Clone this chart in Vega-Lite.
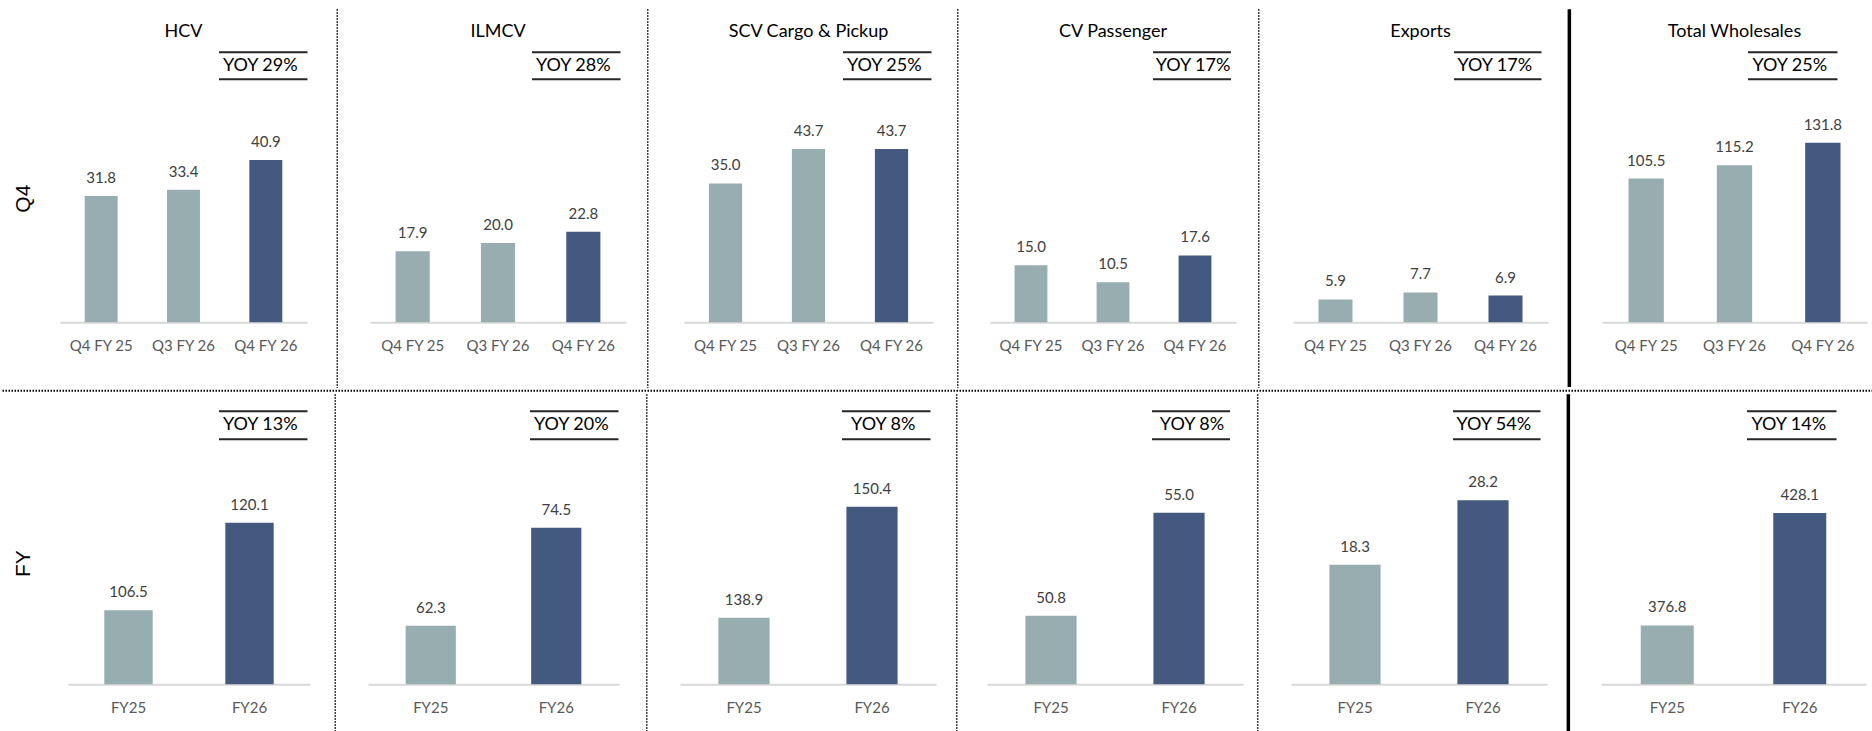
{
"$schema": "https://vega.github.io/schema/vega-lite/v6.json",
"background": "white",
"padding": {"top": 7.25, "left": 0, "right": 0, "bottom": 0},
"spacing": 0,
"datasets": {
"rows": [{"row": "Q4"}, {"row": "FY"}],
"panels": [
{"row": "Q4", "panel": "HCV", "yoy": "YOY 29%"},
{"row": "Q4", "panel": "ILMCV", "yoy": "YOY 28%"},
{"row": "Q4", "panel": "SCV Cargo & Pickup", "yoy": "YOY 25%"},
{"row": "Q4", "panel": "CV Passenger", "yoy": "YOY 17%"},
{"row": "Q4", "panel": "Exports", "yoy": "YOY 17%"},
{"row": "Q4", "panel": "Total Wholesales", "yoy": "YOY 25%"},
{"row": "FY", "panel": "HCV", "yoy": "YOY 13%"},
{"row": "FY", "panel": "ILMCV", "yoy": "YOY 20%"},
{"row": "FY", "panel": "SCV Cargo & Pickup", "yoy": "YOY 8%"},
{"row": "FY", "panel": "CV Passenger", "yoy": "YOY 8%"},
{"row": "FY", "panel": "Exports", "yoy": "YOY 54%"},
{"row": "FY", "panel": "Total Wholesales", "yoy": "YOY 14%"}
],
"bars": [
{"row": "Q4", "panel": "HCV", "period": "Q4 FY 25", "series": "Earlier", "value": 31.8},
{"row": "Q4", "panel": "HCV", "period": "Q3 FY 26", "series": "Earlier", "value": 33.4},
{"row": "Q4", "panel": "HCV", "period": "Q4 FY 26", "series": "Latest", "value": 40.9},
{"row": "Q4", "panel": "ILMCV", "period": "Q4 FY 25", "series": "Earlier", "value": 17.9},
{"row": "Q4", "panel": "ILMCV", "period": "Q3 FY 26", "series": "Earlier", "value": 20.0},
{"row": "Q4", "panel": "ILMCV", "period": "Q4 FY 26", "series": "Latest", "value": 22.8},
{"row": "Q4", "panel": "SCV Cargo & Pickup", "period": "Q4 FY 25", "series": "Earlier", "value": 35.0},
{"row": "Q4", "panel": "SCV Cargo & Pickup", "period": "Q3 FY 26", "series": "Earlier", "value": 43.7},
{"row": "Q4", "panel": "SCV Cargo & Pickup", "period": "Q4 FY 26", "series": "Latest", "value": 43.7},
{"row": "Q4", "panel": "CV Passenger", "period": "Q4 FY 25", "series": "Earlier", "value": 15.0},
{"row": "Q4", "panel": "CV Passenger", "period": "Q3 FY 26", "series": "Earlier", "value": 10.5},
{"row": "Q4", "panel": "CV Passenger", "period": "Q4 FY 26", "series": "Latest", "value": 17.6},
{"row": "Q4", "panel": "Exports", "period": "Q4 FY 25", "series": "Earlier", "value": 5.9},
{"row": "Q4", "panel": "Exports", "period": "Q3 FY 26", "series": "Earlier", "value": 7.7},
{"row": "Q4", "panel": "Exports", "period": "Q4 FY 26", "series": "Latest", "value": 6.9},
{"row": "Q4", "panel": "Total Wholesales", "period": "Q4 FY 25", "series": "Earlier", "value": 105.5},
{"row": "Q4", "panel": "Total Wholesales", "period": "Q3 FY 26", "series": "Earlier", "value": 115.2},
{"row": "Q4", "panel": "Total Wholesales", "period": "Q4 FY 26", "series": "Latest", "value": 131.8},
{"row": "FY", "panel": "HCV", "period": "FY25", "series": "Earlier", "value": 106.5},
{"row": "FY", "panel": "HCV", "period": "FY26", "series": "Latest", "value": 120.1},
{"row": "FY", "panel": "ILMCV", "period": "FY25", "series": "Earlier", "value": 62.3},
{"row": "FY", "panel": "ILMCV", "period": "FY26", "series": "Latest", "value": 74.5},
{"row": "FY", "panel": "SCV Cargo & Pickup", "period": "FY25", "series": "Earlier", "value": 138.9},
{"row": "FY", "panel": "SCV Cargo & Pickup", "period": "FY26", "series": "Latest", "value": 150.4},
{"row": "FY", "panel": "CV Passenger", "period": "FY25", "series": "Earlier", "value": 50.8},
{"row": "FY", "panel": "CV Passenger", "period": "FY26", "series": "Latest", "value": 55.0},
{"row": "FY", "panel": "Exports", "period": "FY25", "series": "Earlier", "value": 18.3},
{"row": "FY", "panel": "Exports", "period": "FY26", "series": "Latest", "value": 28.2},
{"row": "FY", "panel": "Total Wholesales", "period": "FY25", "series": "Earlier", "value": 376.8},
{"row": "FY", "panel": "Total Wholesales", "period": "FY26", "series": "Latest", "value": 428.1}
]
},
"vconcat": [
{"hconcat": [
{"width": 59, "height": 378.75, "data": {"name": "rows"}, "transform": [{"filter": "datum.row === 'Q4'"}], "mark": {"type": "text", "angle": 270, "font": "Liberation Sans", "fontSize": 21, "color": "#000", "dy": -7}, "encoding": {"text": {"field": "row", "type": "nominal"}}},
{"vconcat": [
{"width": 247, "height": 42, "data": {"name": "panels"}, "transform": [{"filter": "datum.row === 'Q4' && datum.panel === 'HCV'"}], "mark": {"type": "text", "fontSize": 18, "color": "#000", "dy": 2}, "encoding": {"text": {"field": "panel", "type": "nominal"}}},
{"hconcat": [
{"width": 157.5, "height": 27, "data": {"values": []}, "mark": "text", "encoding": {}},
{"width": 88.5, "height": 27, "view": {"stroke": "#262626", "strokeWidth": 2, "strokeDash": [88.5, 27]}, "data": {"name": "panels"}, "transform": [{"filter": "datum.row === 'Q4' && datum.panel === 'HCV'"}], "mark": {"type": "text", "fontSize": 18, "color": "#000", "dx": -3}, "encoding": {"text": {"field": "yoy", "type": "nominal"}}}
], "spacing": 0},
{"width": 247, "height": 242, "data": {"name": "bars"}, "transform": [{"filter": "datum.row === 'Q4' && datum.panel === 'HCV'"}],
"encoding": {"x": {"field": "period", "type": "nominal", "sort": null, "scale": {"paddingInner": 0.6, "paddingOuter": 0.3}}, "y": {"field": "value", "type": "quantitative", "axis": null, "scale": {"domain": [0, 61.0], "nice": false}}},
"layer": [{"mark": {"type": "bar"}, "encoding": {"color": {"field": "series", "type": "nominal", "legend": null}}}, {"mark": {"type": "text", "dy": -18, "fontSize": 15, "color": "#404040"}, "encoding": {"text": {"field": "value", "type": "quantitative", "format": ".1f"}}}]}
], "spacing": 0},
{"width": 60.5, "height": 378.75, "data": {"name": "rows"}, "transform": [{"filter": "datum.row === 'Q4'"}], "mark": {"type": "rule", "color": "#000", "strokeWidth": 1.5, "strokeDash": [1.5, 1.5]}, "encoding": {"x": {"datum": 0.467, "type": "quantitative", "scale": {"domain": [0, 1]}, "axis": null}}},
{"vconcat": [
{"width": 256, "height": 42, "data": {"name": "panels"}, "transform": [{"filter": "datum.row === 'Q4' && datum.panel === 'ILMCV'"}], "mark": {"type": "text", "fontSize": 18, "color": "#000", "dy": 2}, "encoding": {"text": {"field": "panel", "type": "nominal"}}},
{"hconcat": [
{"width": 161, "height": 27, "data": {"values": []}, "mark": "text", "encoding": {}},
{"width": 88.5, "height": 27, "view": {"stroke": "#262626", "strokeWidth": 2, "strokeDash": [88.5, 27]}, "data": {"name": "panels"}, "transform": [{"filter": "datum.row === 'Q4' && datum.panel === 'ILMCV'"}], "mark": {"type": "text", "fontSize": 18, "color": "#000", "dx": -3}, "encoding": {"text": {"field": "yoy", "type": "nominal"}}}
], "spacing": 0},
{"width": 256, "height": 242, "data": {"name": "bars"}, "transform": [{"filter": "datum.row === 'Q4' && datum.panel === 'ILMCV'"}],
"encoding": {"x": {"field": "period", "type": "nominal", "sort": null, "scale": {"paddingInner": 0.6, "paddingOuter": 0.3}}, "y": {"field": "value", "type": "quantitative", "axis": null, "scale": {"domain": [0, 61.0], "nice": false}}},
"layer": [{"mark": {"type": "bar"}, "encoding": {"color": {"field": "series", "type": "nominal", "legend": null}}}, {"mark": {"type": "text", "dy": -18, "fontSize": 15, "color": "#404040"}, "encoding": {"text": {"field": "value", "type": "quantitative", "format": ".1f"}}}]}
], "spacing": 0},
{"width": 57.5, "height": 378.75, "data": {"name": "rows"}, "transform": [{"filter": "datum.row === 'Q4'"}], "mark": {"type": "rule", "color": "#000", "strokeWidth": 1.5, "strokeDash": [1.5, 1.5]}, "encoding": {"x": {"datum": 0.378, "type": "quantitative", "scale": {"domain": [0, 1]}, "axis": null}}},
{"vconcat": [
{"width": 249, "height": 42, "data": {"name": "panels"}, "transform": [{"filter": "datum.row === 'Q4' && datum.panel === 'SCV Cargo & Pickup'"}], "mark": {"type": "text", "fontSize": 18, "color": "#000", "dy": 2}, "encoding": {"text": {"field": "panel", "type": "nominal"}}},
{"hconcat": [
{"width": 157.5, "height": 27, "data": {"values": []}, "mark": "text", "encoding": {}},
{"width": 88.5, "height": 27, "view": {"stroke": "#262626", "strokeWidth": 2, "strokeDash": [88.5, 27]}, "data": {"name": "panels"}, "transform": [{"filter": "datum.row === 'Q4' && datum.panel === 'SCV Cargo & Pickup'"}], "mark": {"type": "text", "fontSize": 18, "color": "#000", "dx": -3}, "encoding": {"text": {"field": "yoy", "type": "nominal"}}}
], "spacing": 0},
{"width": 249, "height": 242, "data": {"name": "bars"}, "transform": [{"filter": "datum.row === 'Q4' && datum.panel === 'SCV Cargo & Pickup'"}],
"encoding": {"x": {"field": "period", "type": "nominal", "sort": null, "scale": {"paddingInner": 0.6, "paddingOuter": 0.3}}, "y": {"field": "value", "type": "quantitative", "axis": null, "scale": {"domain": [0, 61.0], "nice": false}}},
"layer": [{"mark": {"type": "bar"}, "encoding": {"color": {"field": "series", "type": "nominal", "legend": null}}}, {"mark": {"type": "text", "dy": -18, "fontSize": 15, "color": "#404040"}, "encoding": {"text": {"field": "value", "type": "quantitative", "format": ".1f"}}}]}
], "spacing": 0},
{"width": 56.5, "height": 378.75, "data": {"name": "rows"}, "transform": [{"filter": "datum.row === 'Q4'"}], "mark": {"type": "rule", "color": "#000", "strokeWidth": 1.5, "strokeDash": [1.5, 1.5]}, "encoding": {"x": {"datum": 0.438, "type": "quantitative", "scale": {"domain": [0, 1]}, "axis": null}}},
{"vconcat": [
{"width": 246, "height": 42, "data": {"name": "panels"}, "transform": [{"filter": "datum.row === 'Q4' && datum.panel === 'CV Passenger'"}], "mark": {"type": "text", "fontSize": 18, "color": "#000", "dy": 2}, "encoding": {"text": {"field": "panel", "type": "nominal"}}},
{"hconcat": [
{"width": 162, "height": 27, "data": {"values": []}, "mark": "text", "encoding": {}},
{"width": 78, "height": 27, "view": {"stroke": "#262626", "strokeWidth": 2, "strokeDash": [78, 27]}, "data": {"name": "panels"}, "transform": [{"filter": "datum.row === 'Q4' && datum.panel === 'CV Passenger'"}], "mark": {"type": "text", "fontSize": 18, "color": "#000", "dx": 1}, "encoding": {"text": {"field": "yoy", "type": "nominal"}}}
], "spacing": 0},
{"width": 246, "height": 242, "data": {"name": "bars"}, "transform": [{"filter": "datum.row === 'Q4' && datum.panel === 'CV Passenger'"}],
"encoding": {"x": {"field": "period", "type": "nominal", "sort": null, "scale": {"paddingInner": 0.6, "paddingOuter": 0.3}}, "y": {"field": "value", "type": "quantitative", "axis": null, "scale": {"domain": [0, 63.7], "nice": false}}},
"layer": [{"mark": {"type": "bar"}, "encoding": {"color": {"field": "series", "type": "nominal", "legend": null}}}, {"mark": {"type": "text", "dy": -18, "fontSize": 15, "color": "#404040"}, "encoding": {"text": {"field": "value", "type": "quantitative", "format": ".1f"}}}]}
], "spacing": 0},
{"width": 56.5, "height": 378.75, "data": {"name": "rows"}, "transform": [{"filter": "datum.row === 'Q4'"}], "mark": {"type": "rule", "color": "#000", "strokeWidth": 1.5, "strokeDash": [1.5, 1.5]}, "encoding": {"x": {"datum": 0.403, "type": "quantitative", "scale": {"domain": [0, 1]}, "axis": null}}},
{"vconcat": [
{"width": 255, "height": 42, "data": {"name": "panels"}, "transform": [{"filter": "datum.row === 'Q4' && datum.panel === 'Exports'"}], "mark": {"type": "text", "fontSize": 18, "color": "#000", "dy": 2}, "encoding": {"text": {"field": "panel", "type": "nominal"}}},
{"hconcat": [
{"width": 160, "height": 27, "data": {"values": []}, "mark": "text", "encoding": {}},
{"width": 87.5, "height": 27, "view": {"stroke": "#262626", "strokeWidth": 2, "strokeDash": [87.5, 27]}, "data": {"name": "panels"}, "transform": [{"filter": "datum.row === 'Q4' && datum.panel === 'Exports'"}], "mark": {"type": "text", "fontSize": 18, "color": "#000", "dx": -3}, "encoding": {"text": {"field": "yoy", "type": "nominal"}}}
], "spacing": 0},
{"width": 255, "height": 242, "data": {"name": "bars"}, "transform": [{"filter": "datum.row === 'Q4' && datum.panel === 'Exports'"}],
"encoding": {"x": {"field": "period", "type": "nominal", "sort": null, "scale": {"paddingInner": 0.6, "paddingOuter": 0.3}}, "y": {"field": "value", "type": "quantitative", "axis": null, "scale": {"domain": [0, 62.5], "nice": false}}},
"layer": [{"mark": {"type": "bar"}, "encoding": {"color": {"field": "series", "type": "nominal", "legend": null}}}, {"mark": {"type": "text", "dy": -18, "fontSize": 15, "color": "#404040"}, "encoding": {"text": {"field": "value", "type": "quantitative", "format": ".1f"}}}]}
], "spacing": 0},
{"width": 53.5, "height": 377.75, "data": {"name": "rows"}, "transform": [{"filter": "datum.row === 'Q4'"}], "mark": {"type": "rule", "color": "#000", "strokeWidth": 3.5}, "encoding": {"x": {"datum": 0.399, "type": "quantitative", "scale": {"domain": [0, 1]}, "axis": null}}},
{"vconcat": [
{"width": 265, "height": 42, "data": {"name": "panels"}, "transform": [{"filter": "datum.row === 'Q4' && datum.panel === 'Total Wholesales'"}], "mark": {"type": "text", "fontSize": 18, "color": "#000", "dy": 2}, "encoding": {"text": {"field": "panel", "type": "nominal"}}},
{"hconcat": [
{"width": 144.5, "height": 27, "data": {"values": []}, "mark": "text", "encoding": {}},
{"width": 89.5, "height": 27, "view": {"stroke": "#262626", "strokeWidth": 2, "strokeDash": [89.5, 27]}, "data": {"name": "panels"}, "transform": [{"filter": "datum.row === 'Q4' && datum.panel === 'Total Wholesales'"}], "mark": {"type": "text", "fontSize": 18, "color": "#000", "dx": -3}, "encoding": {"text": {"field": "yoy", "type": "nominal"}}}
], "spacing": 0},
{"width": 265, "height": 242, "data": {"name": "bars"}, "transform": [{"filter": "datum.row === 'Q4' && datum.panel === 'Total Wholesales'"}],
"encoding": {"x": {"field": "period", "type": "nominal", "sort": null, "scale": {"paddingInner": 0.6, "paddingOuter": 0.3}}, "y": {"field": "value", "type": "quantitative", "axis": null, "scale": {"domain": [0, 177.7], "nice": false}}},
"layer": [{"mark": {"type": "bar"}, "encoding": {"color": {"field": "series", "type": "nominal", "legend": null}}}, {"mark": {"type": "text", "dy": -18, "fontSize": 15, "color": "#404040"}, "encoding": {"text": {"field": "value", "type": "quantitative", "format": ".1f"}}}]}
], "spacing": 0}
], "spacing": 0},
{"width": 1872, "height": 1, "data": {"name": "rows"}, "transform": [{"filter": "datum.row === 'Q4'"}], "mark": {"type": "rule", "color": "#000", "strokeWidth": 2, "strokeDash": [1.5, 1.5]}, "encoding": {"y": {"datum": 0.5, "type": "quantitative", "scale": {"domain": [0, 1]}, "axis": null}}},
{"hconcat": [
{"width": 67, "height": 338.75, "data": {"name": "rows"}, "transform": [{"filter": "datum.row === 'FY'"}], "mark": {"type": "text", "angle": 270, "font": "Liberation Sans", "fontSize": 21, "color": "#000", "dy": -11}, "encoding": {"text": {"field": "row", "type": "nominal"}}},
{"vconcat": [
{"width": 242, "height": 15.75, "data": {"values": []}, "mark": "text", "encoding": {}},
{"hconcat": [
{"width": 149.5, "height": 28, "data": {"values": []}, "mark": "text", "encoding": {}},
{"width": 88.5, "height": 28, "view": {"stroke": "#262626", "strokeWidth": 2, "strokeDash": [88.5, 28]}, "data": {"name": "panels"}, "transform": [{"filter": "datum.row === 'FY' && datum.panel === 'HCV'"}], "mark": {"type": "text", "fontSize": 18, "color": "#000", "dx": -3}, "encoding": {"text": {"field": "yoy", "type": "nominal"}}}
], "spacing": 0},
{"width": 242, "height": 244, "data": {"name": "bars"}, "transform": [{"filter": "datum.row === 'FY' && datum.panel === 'HCV'"}],
"encoding": {"x": {"field": "period", "type": "nominal", "sort": null, "scale": {"paddingInner": 0.6, "paddingOuter": 0.3}}, "y": {"field": "value", "type": "quantitative", "axis": null, "scale": {"domain": [95, 132.9], "nice": false, "zero": false, "clamp": true}}},
"layer": [{"mark": {"type": "bar"}, "encoding": {"color": {"field": "series", "type": "nominal", "legend": null}}}, {"mark": {"type": "text", "dy": -18, "fontSize": 15, "color": "#404040"}, "encoding": {"text": {"field": "value", "type": "quantitative", "format": ".1f"}}}]}
], "spacing": 0},
{"width": 57.5, "height": 338.75, "data": {"name": "rows"}, "transform": [{"filter": "datum.row === 'FY'"}], "mark": {"type": "rule", "color": "#000", "strokeWidth": 1.5, "strokeDash": [1.5, 1.5]}, "encoding": {"x": {"datum": 0.439, "type": "quantitative", "scale": {"domain": [0, 1]}, "axis": null}}},
{"vconcat": [
{"width": 251, "height": 15.75, "data": {"values": []}, "mark": "text", "encoding": {}},
{"hconcat": [
{"width": 161, "height": 28, "data": {"values": []}, "mark": "text", "encoding": {}},
{"width": 88.5, "height": 28, "view": {"stroke": "#262626", "strokeWidth": 2, "strokeDash": [88.5, 28]}, "data": {"name": "panels"}, "transform": [{"filter": "datum.row === 'FY' && datum.panel === 'ILMCV'"}], "mark": {"type": "text", "fontSize": 18, "color": "#000", "dx": -3}, "encoding": {"text": {"field": "yoy", "type": "nominal"}}}
], "spacing": 0},
{"width": 251, "height": 244, "data": {"name": "bars"}, "transform": [{"filter": "datum.row === 'FY' && datum.panel === 'ILMCV'"}],
"encoding": {"x": {"field": "period", "type": "nominal", "sort": null, "scale": {"paddingInner": 0.6, "paddingOuter": 0.3}}, "y": {"field": "value", "type": "quantitative", "axis": null, "scale": {"domain": [55, 85.4], "nice": false, "zero": false, "clamp": true}}},
"layer": [{"mark": {"type": "bar"}, "encoding": {"color": {"field": "series", "type": "nominal", "legend": null}}}, {"mark": {"type": "text", "dy": -18, "fontSize": 15, "color": "#404040"}, "encoding": {"text": {"field": "value", "type": "quantitative", "format": ".1f"}}}]}
], "spacing": 0},
{"width": 59.5, "height": 338.75, "data": {"name": "rows"}, "transform": [{"filter": "datum.row === 'FY'"}], "mark": {"type": "rule", "color": "#000", "strokeWidth": 1.5, "strokeDash": [1.5, 1.5]}, "encoding": {"x": {"datum": 0.45, "type": "quantitative", "scale": {"domain": [0, 1]}, "axis": null}}},
{"vconcat": [
{"width": 256, "height": 15.75, "data": {"values": []}, "mark": "text", "encoding": {}},
{"hconcat": [
{"width": 160.5, "height": 28, "data": {"values": []}, "mark": "text", "encoding": {}},
{"width": 88.5, "height": 28, "view": {"stroke": "#262626", "strokeWidth": 2, "strokeDash": [88.5, 28]}, "data": {"name": "panels"}, "transform": [{"filter": "datum.row === 'FY' && datum.panel === 'SCV Cargo & Pickup'"}], "mark": {"type": "text", "fontSize": 18, "color": "#000", "dx": -3}, "encoding": {"text": {"field": "yoy", "type": "nominal"}}}
], "spacing": 0},
{"width": 256, "height": 244, "data": {"name": "bars"}, "transform": [{"filter": "datum.row === 'FY' && datum.panel === 'SCV Cargo & Pickup'"}],
"encoding": {"x": {"field": "period", "type": "nominal", "sort": null, "scale": {"paddingInner": 0.6, "paddingOuter": 0.3}}, "y": {"field": "value", "type": "quantitative", "axis": null, "scale": {"domain": [132, 157.3], "nice": false, "zero": false, "clamp": true}}},
"layer": [{"mark": {"type": "bar"}, "encoding": {"color": {"field": "series", "type": "nominal", "legend": null}}}, {"mark": {"type": "text", "dy": -18, "fontSize": 15, "color": "#404040"}, "encoding": {"text": {"field": "value", "type": "quantitative", "format": ".1f"}}}]}
], "spacing": 0},
{"width": 50.5, "height": 338.75, "data": {"name": "rows"}, "transform": [{"filter": "datum.row === 'FY'"}], "mark": {"type": "rule", "color": "#000", "strokeWidth": 1.5, "strokeDash": [1.5, 1.5]}, "encoding": {"x": {"datum": 0.411, "type": "quantitative", "scale": {"domain": [0, 1]}, "axis": null}}},
{"vconcat": [
{"width": 256, "height": 15.75, "data": {"values": []}, "mark": "text", "encoding": {}},
{"hconcat": [
{"width": 164, "height": 28, "data": {"values": []}, "mark": "text", "encoding": {}},
{"width": 78, "height": 28, "view": {"stroke": "#262626", "strokeWidth": 2, "strokeDash": [78, 28]}, "data": {"name": "panels"}, "transform": [{"filter": "datum.row === 'FY' && datum.panel === 'CV Passenger'"}], "mark": {"type": "text", "fontSize": 18, "color": "#000", "dx": 1}, "encoding": {"text": {"field": "yoy", "type": "nominal"}}}
], "spacing": 0},
{"width": 256, "height": 244, "data": {"name": "bars"}, "transform": [{"filter": "datum.row === 'FY' && datum.panel === 'CV Passenger'"}],
"encoding": {"x": {"field": "period", "type": "nominal", "sort": null, "scale": {"paddingInner": 0.6, "paddingOuter": 0.3}}, "y": {"field": "value", "type": "quantitative", "axis": null, "scale": {"domain": [48, 57.96], "nice": false, "zero": false, "clamp": true}}},
"layer": [{"mark": {"type": "bar"}, "encoding": {"color": {"field": "series", "type": "nominal", "legend": null}}}, {"mark": {"type": "text", "dy": -18, "fontSize": 15, "color": "#404040"}, "encoding": {"text": {"field": "value", "type": "quantitative", "format": ".1f"}}}]}
], "spacing": 0},
{"width": 47.5, "height": 338.75, "data": {"name": "rows"}, "transform": [{"filter": "datum.row === 'FY'"}], "mark": {"type": "rule", "color": "#000", "strokeWidth": 1.5, "strokeDash": [1.5, 1.5]}, "encoding": {"x": {"datum": 0.31, "type": "quantitative", "scale": {"domain": [0, 1]}, "axis": null}}},
{"vconcat": [
{"width": 256, "height": 15.75, "data": {"values": []}, "mark": "text", "encoding": {}},
{"hconcat": [
{"width": 161, "height": 28, "data": {"values": []}, "mark": "text", "encoding": {}},
{"width": 87.5, "height": 28, "view": {"stroke": "#262626", "strokeWidth": 2, "strokeDash": [87.5, 28]}, "data": {"name": "panels"}, "transform": [{"filter": "datum.row === 'FY' && datum.panel === 'Exports'"}], "mark": {"type": "text", "fontSize": 18, "color": "#000", "dx": -3}, "encoding": {"text": {"field": "yoy", "type": "nominal"}}}
], "spacing": 0},
{"width": 256, "height": 244, "data": {"name": "bars"}, "transform": [{"filter": "datum.row === 'FY' && datum.panel === 'Exports'"}],
"encoding": {"x": {"field": "period", "type": "nominal", "sort": null, "scale": {"paddingInner": 0.6, "paddingOuter": 0.3}}, "y": {"field": "value", "type": "quantitative", "axis": null, "scale": {"domain": [0, 37.4], "nice": false}}},
"layer": [{"mark": {"type": "bar"}, "encoding": {"color": {"field": "series", "type": "nominal", "legend": null}}}, {"mark": {"type": "text", "dy": -18, "fontSize": 15, "color": "#404040"}, "encoding": {"text": {"field": "value", "type": "quantitative", "format": ".1f"}}}]}
], "spacing": 0},
{"width": 53.5, "height": 337.75, "data": {"name": "rows"}, "transform": [{"filter": "datum.row === 'FY'"}], "mark": {"type": "rule", "color": "#000", "strokeWidth": 3.5}, "encoding": {"x": {"datum": 0.399, "type": "quantitative", "scale": {"domain": [0, 1]}, "axis": null}}},
{"vconcat": [
{"width": 265, "height": 15.75, "data": {"values": []}, "mark": "text", "encoding": {}},
{"hconcat": [
{"width": 144.5, "height": 28, "data": {"values": []}, "mark": "text", "encoding": {}},
{"width": 89.5, "height": 28, "view": {"stroke": "#262626", "strokeWidth": 2, "strokeDash": [89.5, 28]}, "data": {"name": "panels"}, "transform": [{"filter": "datum.row === 'FY' && datum.panel === 'Total Wholesales'"}], "mark": {"type": "text", "fontSize": 18, "color": "#000", "dx": -3}, "encoding": {"text": {"field": "yoy", "type": "nominal"}}}
], "spacing": 0},
{"width": 265, "height": 244, "data": {"name": "bars"}, "transform": [{"filter": "datum.row === 'FY' && datum.panel === 'Total Wholesales'"}],
"encoding": {"x": {"field": "period", "type": "nominal", "sort": null, "scale": {"paddingInner": 0.6, "paddingOuter": 0.3}}, "y": {"field": "value", "type": "quantitative", "axis": null, "scale": {"domain": [350, 461.2], "nice": false, "zero": false, "clamp": true}}},
"layer": [{"mark": {"type": "bar"}, "encoding": {"color": {"field": "series", "type": "nominal", "legend": null}}}, {"mark": {"type": "text", "dy": -18, "fontSize": 15, "color": "#404040"}, "encoding": {"text": {"field": "value", "type": "quantitative", "format": ".1f"}}}]}
], "spacing": 0}
], "spacing": 0}
],
"config": {
"font": "Lato",
"view": {"stroke": null},
"concat": {"spacing": 0},
"range": {"category": ["#97ADAF", "#44597F"]},
"axisX": {"title": null, "labelFont": "Lato", "labelFontSize": 15, "labelColor": "#595959", "ticks": false, "tickSize": 0, "labelPadding": 16, "domainColor": "#D9D9D9", "domainWidth": 2, "labelAngle": 0, "grid": false}
}
}
